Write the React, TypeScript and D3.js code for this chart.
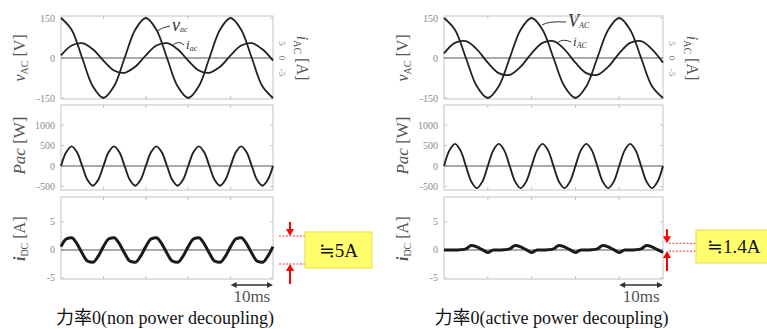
import * as d3 from "d3";
import { useEffect } from "react";

const W = 767;
const H = 329;

// sample grids in ms
const tCoarse = d3.range(0, 50.001, 2.5);
const tFine = d3.range(0, 50.001, 1.25);

// non power decoupling (left)
const vacLeft = [150, 106, 0, -106, -150, -106, 0, 106, 150, 106, 0, -106, -150, -106, 0, 106, 150, 106, 0, -106, -150];
const iacLeft = [0.9, 4.3, 5.1, 3.0, -0.9, -4.3, -5.1, -3.0, 0.9, 4.3, 5.1, 3.0, -0.9, -4.3, -5.1, -3.0, 0.9, 4.3, 5.1, 3.0, -0.9];
const pacLeft = [
  0, 340, 480, 340, 0, -340, -480, -340,
  0, 340, 480, 340, 0, -340, -480, -340,
  0, 340, 480, 340, 0, -340, -480, -340,
  0, 340, 480, 340, 0, -340, -480, -340,
  0, 340, 480, 340, 0, -340, -480, -340, 0,
];
const idcLeft = [
  0.6, 2.0, 2.2, 1.15, -0.6, -2.0, -2.2, -1.15,
  0.6, 2.0, 2.2, 1.15, -0.6, -2.0, -2.2, -1.15,
  0.6, 2.0, 2.2, 1.15, -0.6, -2.0, -2.2, -1.15,
  0.6, 2.0, 2.2, 1.15, -0.6, -2.0, -2.2, -1.15,
  0.6, 2.0, 2.2, 1.15, -0.6, -2.0, -2.2, -1.15, 0.6,
];

// active power decoupling (right)
const vacRight = [150, 106, 0, -106, -150, -106, 0, 106, 150, 106, 0, -106, -150, -106, 0, 106, 150, 106, 0, -106, -150];
const iacRight = [1.6, 5.2, 5.8, 3.0, -1.6, -5.2, -5.8, -3.0, 1.6, 5.2, 5.8, 3.0, -1.6, -5.2, -5.8, -3.0, 1.6, 5.2, 5.8, 3.0, -1.6];
const pacRight = [
  0, 382, 540, 382, 0, -382, -540, -382,
  0, 382, 540, 382, 0, -382, -540, -382,
  0, 382, 540, 382, 0, -382, -540, -382,
  0, 382, 540, 382, 0, -382, -540, -382,
  0, 382, 540, 382, 0, -382, -540, -382, 0,
];
const idcRight = [
  0, 0, 0, 0.05, 0.2, 0.8, 0.55, 0.05,
  -0.45, 0, 0, 0.05, 0.2, 0.8, 0.55, 0.05,
  -0.45, 0, 0, 0.05, 0.2, 0.8, 0.55, 0.05,
  -0.45, 0, 0, 0.05, 0.2, 0.8, 0.55, 0.05,
  -0.45, 0, 0, 0.05, 0.2, 0.8, 0.55, 0.05, -0.45,
];

const vTicks = [150, 0, -150];
const iTicks = [5, 0, -5];
const pTicks = [1000, 500, 0, -500];
const dcTicks = [5, 0, -5];
const timeTicks = [10, 20, 30, 40];

const FONT = "Liberation Serif, DejaVu Serif, Noto Sans CJK JP, serif";

function Arrow({ x, y1, y2, color, w = 2 }) {
  // shaft from y1 to tip y2
  const dir = Math.sign(y2 - y1);
  return (
    <g>
      <line x1={x} x2={x} y1={y1} y2={y2 - dir * 5} stroke={color} strokeWidth={w} />
      <path d={`M${x - 4},${y2 - dir * 7} L${x + 4},${y2 - dir * 7} L${x},${y2} Z`} fill={color} />
    </g>
  );
}

function Chart({ x0, x1, vac, iac, pac, idc, caption, band, boxX, boxW, boxY, boxH, boxText, vLabel, iLabel, arrowX, textStart }) {
  const x = d3.scaleLinear().domain([0, 50]).range([x0, x1]);
  const yV = d3.scaleLinear().domain([-153.75, 157.5]).range([99, 16]);
  const yI = d3.scaleLinear().domain([-14.14, 14.48]).range([99, 16]);
  const yP = d3.scaleLinear().domain([-585, 1488]).range([190, 105]);
  const yD = d3.scaleLinear().domain([-5.18, 9.46]).range([279, 197]);

  const mk = (ys, ts, curve = d3.curveCatmullRom) =>
    d3.line<number>().x((_, i) => x(ts[i])).y((d) => ys(d)).curve(curve);

  const panels = [
    { y: yV, ticks: vTicks },
    { y: yP, ticks: pTicks },
    { y: yD, ticks: dcTicks },
  ];

  const tickColor = "#8a8a8a";

  return (
    <g style={{ fontFamily: FONT }}>
      {panels.map((p, k) => {
        const [b, t] = p.y.range();
        return (
          <g key={k}>
            <rect x={x0} y={t} width={x1 - x0} height={b - t} fill="none" stroke="#c4c4c4" strokeWidth={1} />
            {timeTicks.map((tt) => (
              <g key={tt} stroke="#c4c4c4">
                <line x1={x(tt)} x2={x(tt)} y1={t} y2={t + 3} />
                <line x1={x(tt)} x2={x(tt)} y1={b} y2={b - 3} />
              </g>
            ))}
            {p.ticks.map((v) => (
              <g key={v}>
                <line x1={x0} x2={x0 + 3} y1={p.y(v)} y2={p.y(v)} stroke="#c4c4c4" />
                <line x1={x1} x2={x1 - 3} y1={p.y(v)} y2={p.y(v)} stroke="#c4c4c4" />
                <text x={x0 - 6} y={p.y(v)} dy="0.35em" textAnchor="end" fontSize={10} fill={tickColor}>
                  {v}
                </text>
              </g>
            ))}
            <line x1={x0} x2={x1} y1={p.y(0)} y2={p.y(0)} stroke="#8c8c8c" strokeWidth={1.6} />
          </g>
        );
      })}

      {/* right axis of top panel */}
      {iTicks.map((v) => (
        <text
          key={v}
          transform={`translate(${x1 + 9},${yI(v)}) rotate(90)`}
          textAnchor="middle"
          dy="0.35em"
          fontSize={9}
          fill={tickColor}
        >
          {v}
        </text>
      ))}
      <text transform={`translate(${x1 + 24},${yI(0)}) rotate(90)`} textAnchor="middle" fontSize={16} fill="#555">
        <tspan fontStyle="italic">i</tspan>
        <tspan fontSize={10} dy={3}>AC</tspan>
        <tspan dy={-3}> [A]</tspan>
      </text>

      {/* left axis titles */}
      <text transform={`translate(${x0 - 36},${yV(0)}) rotate(-90)`} textAnchor="middle" fontSize={16} fill="#555">
        <tspan fontStyle="italic">v</tspan>
        <tspan fontSize={10} dy={3}>AC</tspan>
        <tspan dy={-3}> [V]</tspan>
      </text>
      <text transform={`translate(${x0 - 36},${yP(500)}) rotate(-90)`} textAnchor="middle" fontSize={17} fill="#555">
        <tspan fontStyle="italic">Pac</tspan>
        <tspan> [W]</tspan>
      </text>
      <text transform={`translate(${x0 - 36},${yD(2)}) rotate(-90)`} textAnchor="middle" fontSize={16} fill="#555">
        <tspan fontStyle="italic" fontWeight="bold">i</tspan>
        <tspan fontSize={10} dy={3}>DC</tspan>
        <tspan dy={-3}> [A]</tspan>
      </text>

      {/* waveforms */}
      <path d={mk(yV, tCoarse)(vac)} fill="none" stroke="#222" strokeWidth={1.8} />
      <path d={mk(yI, tCoarse)(iac)} fill="none" stroke="#222" strokeWidth={1.8} />
      <path d={mk(yP, tFine)(pac)} fill="none" stroke="#222" strokeWidth={1.9} />
      <path d={mk(yD, tFine, d3.curveMonotoneX)(idc)} fill="none" stroke="#1a1a1a" strokeWidth={3} />

      {/* curve labels */}
      <path
        d={`M${vLabel.lx},${vLabel.ly} Q${vLabel.lx + 6},${vLabel.ly - 4} ${vLabel.tx - 2},${vLabel.ty - 5}`}
        fill="none"
        stroke="#333"
        strokeWidth={1}
      />
      <text x={vLabel.tx} y={vLabel.ty} fontSize={18} fill="#333" fontStyle="italic">
        {vLabel.main}
        <tspan fontSize={8} dy={1}>{vLabel.sub}</tspan>
      </text>
      <path
        d={`M${iLabel.lx},${iLabel.ly} Q${iLabel.lx + 6},${iLabel.ly - 5} ${iLabel.tx - 2},${iLabel.ty - 4}`}
        fill="none"
        stroke="#333"
        strokeWidth={1}
      />
      <text x={iLabel.tx} y={iLabel.ty} fontSize={13} fill="#333" fontStyle="italic">
        {iLabel.main}
        <tspan fontSize={8} dy={2}>{iLabel.sub}</tspan>
      </text>

      {/* 10ms scale bar */}
      <g stroke="#333" fill="#333">
        <line x1={x(40) + 4} x2={x(50) - 4} y1={285} y2={285} strokeWidth={1.6} />
        <path d={`M${x(40)},285 L${x(40) + 6},282 L${x(40) + 6},288 Z`} stroke="none" />
        <path d={`M${x(50)},285 L${x(50) - 6},282 L${x(50) - 6},288 Z`} stroke="none" />
      </g>
      <text x={(x(40) + x(50)) / 2} y={302} textAnchor="middle" fontSize={17} fill="#555">
        10ms
      </text>

      {/* ripple annotation */}
      {band.map((v) => (
        <line key={v} x1={x1 + 6} x2={boxX} y1={yD(v)} y2={yD(v)} stroke="#ff3030" strokeWidth={1} strokeDasharray="2,1.5" />
      ))}
      <Arrow x={arrowX} y1={yD(band[0]) - 14} y2={yD(band[0])} color="#ff0000" />
      <Arrow x={arrowX} y1={yD(band[1]) + 20} y2={yD(band[1])} color="#ff0000" />
      <rect x={boxX} y={boxY} width={boxW} height={boxH} fill="#ffff6e" stroke="#e8dc40" strokeWidth={1} />
      <text
        x={textStart ? boxX + 11 : boxX + boxW / 2}
        y={boxY + boxH / 2}
        dy="0.35em"
        textAnchor={textStart ? "start" : "middle"}
        fontSize={19}
        fill="#111"
      >
        {boxText}
      </text>

      <text x={(x0 + x1) / 2 - 2} y={324} textAnchor="middle" fontSize={18} fill="#111">
        {caption}
      </text>
    </g>
  );
}

export default function App() {
  useEffect(() => {
    document.body.style.margin = "0";
  }, []);
  return (
    <svg width={W} height={H} style={{ display: "block", background: "#fff" }}>
      <Chart
        x0={61}
        x1={273}
        vac={vacLeft}
        iac={iacLeft}
        pac={pacLeft}
        idc={idcLeft}
        caption="力率0(non power decoupling)"
        band={[2.5, -2.5]}
        boxX={305}
        boxW={67}
        boxY={232}
        boxH={36}
        boxText="≒5A"
        arrowX={290}
        textStart={false}
        vLabel={{ lx: 157, ly: 31, tx: 172, ty: 31, main: "v", sub: "ac" }}
        iLabel={{ lx: 173, ly: 45, tx: 186, ty: 49, main: "i", sub: "ac" }}
      />
      <Chart
        x0={444}
        x1={663}
        vac={vacRight}
        iac={iacRight}
        pac={pacRight}
        idc={idcRight}
        caption="力率0(active power decoupling)"
        band={[1.2, -0.2]}
        boxX={696}
        boxW={75}
        boxY={230}
        boxH={33}
        boxText="≒1.4A"
        arrowX={667}
        textStart={true}
        vLabel={{ lx: 542, ly: 25, tx: 568, ty: 27, main: "V", sub: "AC" }}
        iLabel={{ lx: 557, ly: 43, tx: 573, ty: 46, main: "i", sub: "AC" }}
      />
    </svg>
  );
}
